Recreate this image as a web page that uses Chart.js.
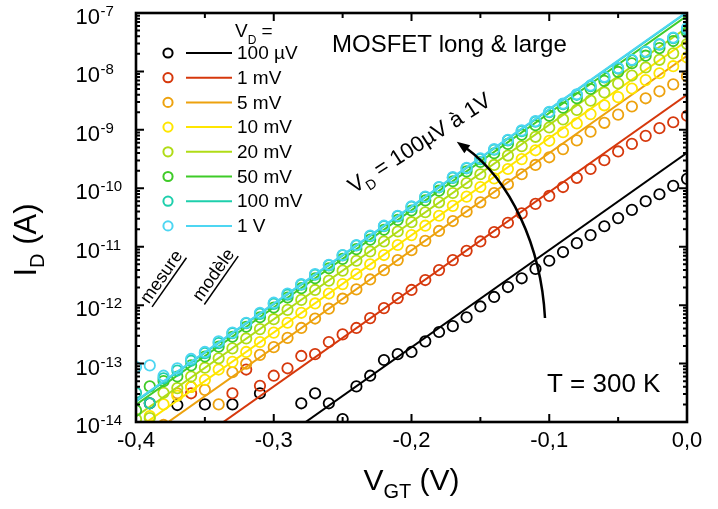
<!DOCTYPE html>
<html>
<head>
<meta charset="utf-8">
<script src="https://cdn.jsdelivr.net/npm/chart.js@4.4.1/dist/chart.umd.min.js"></script>
<style>
  html, body { margin: 0; padding: 0; background: #fff; }
</style>
</head>
<body>
<canvas id="myChart" width="718" height="509"></canvas>
<script>
// gate voltage V_GT (V)
var vgt = [-0.40, -0.39, -0.38, -0.37, -0.36, -0.35, -0.34, -0.33, -0.32, -0.31,
  -0.30, -0.29, -0.28, -0.27, -0.26, -0.25, -0.24, -0.23, -0.22, -0.21,
  -0.20, -0.19, -0.18, -0.17, -0.16, -0.15, -0.14, -0.13, -0.12, -0.11,
  -0.10, -0.09, -0.08, -0.07, -0.06, -0.05, -0.04, -0.03, -0.02, -0.01, 0.00];

var vdLabels = ["100 µV", "1 mV", "5 mV", "10 mV", "20 mV", "50 mV", "100 mV", "1 V"];
var vdColors = ["#000000", "#d6380c", "#eda20e", "#ffe600", "#b0dc16", "#3fcb28", "#1ecfac", "#4dd6f2"];

// measured I_D (A), one value per V_GT, null = below 1e-14
var id100uV = [null, 2.09e-14, null, 1.95e-14, null, 2.0e-14, null, 2.0e-14, null, 3.1e-14,
  null, null, 2.09e-14, 3.1e-14, 2.09e-14, 1.12e-14, 4.07e-14, 6.2e-14, 1.15e-13, 1.45e-13,
  1.58e-13, 2.4e-13, 3.47e-13, 4.37e-13, 6.2e-13, 9.5e-13, 1.38e-12, 2.04e-12, 2.88e-12, 4.17e-12,
  5.75e-12, 8.1e-12, 1.15e-11, 1.58e-11, 2.24e-11, 3.09e-11, 4.27e-11, 6.0e-11, 7.9e-11, 1.10e-10, 1.45e-10];
var id1mV = [null, null, null, null, 3.1e-14, null, null, 3.1e-14, 7.9e-14, 4.17e-14,
  6.2e-14, 8.3e-14, 1.35e-13, 1.45e-13, 2.34e-13, 3.16e-13, 4.07e-13, 6.0e-13, 8.9e-13, 1.32e-12,
  1.82e-12, 2.69e-12, 3.98e-12, 5.9e-12, 8.5e-12, 1.23e-11, 1.78e-11, 2.57e-11, 3.72e-11, 5.4e-11,
  7.4e-11, 1.05e-10, 1.51e-10, 2.14e-10, 3.02e-10, 4.27e-10, 5.75e-10, 7.9e-10, 1.07e-9, 1.35e-9, 1.74e-9];
var id5mV = [null, null, 8.9e-15, 3.1e-14, 3.98e-14, 3.55e-14, 2.0e-14, 7.1e-14, 1.0e-13, 1.41e-13,
  1.91e-13, 2.75e-13, 4.07e-13, 5.9e-13, 8.7e-13, 1.29e-12, 1.86e-12, 2.75e-12, 3.98e-12, 5.9e-12,
  8.7e-12, 1.26e-11, 1.86e-11, 2.75e-11, 3.98e-11, 5.75e-11, 8.3e-11, 1.17e-10, 1.74e-10, 2.51e-10,
  3.39e-10, 4.68e-10, 6.6e-10, 9.3e-10, 1.32e-9, 1.82e-9, 2.51e-9, 3.47e-9, 4.57e-9, 6.0e-9, 8.3e-9];
var id10mV = [8.0e-15, 1.26e-14, 2.0e-14, 2.82e-14, 3.98e-14, 5.25e-14, 7.9e-14, 1.07e-13, 1.58e-13, 2.34e-13,
  3.39e-13, 5.0e-13, 7.4e-13, 1.07e-12, 1.58e-12, 2.29e-12, 3.39e-12, 5.0e-12, 7.2e-12, 1.07e-11,
  1.58e-11, 2.29e-11, 3.39e-11, 5.0e-11, 7.2e-11, 1.05e-10, 1.48e-10, 2.14e-10, 3.16e-10, 4.47e-10,
  6.5e-10, 9.1e-10, 1.29e-9, 1.86e-9, 2.63e-9, 3.63e-9, 5.1e-9, 7.1e-9, 9.3e-9, 1.23e-8, 1.74e-8];
var id20mV = [1.12e-14, 1.17e-14, 3.16e-14, 3.8e-14, 6.0e-14, 8.5e-14, 1.23e-13, 1.82e-13, 2.69e-13, 3.89e-13,
  5.75e-13, 8.3e-13, 1.23e-12, 1.82e-12, 2.63e-12, 3.89e-12, 5.75e-12, 8.3e-12, 1.23e-11, 1.82e-11,
  2.63e-11, 3.89e-11, 5.75e-11, 8.3e-11, 1.23e-10, 1.74e-10, 2.51e-10, 3.63e-10, 5.25e-10, 7.6e-10,
  1.10e-9, 1.51e-9, 2.19e-9, 3.16e-9, 4.37e-9, 6.2e-9, 8.5e-9, 1.17e-8, 1.58e-8, 2.04e-8, 2.95e-8];
var id50mV = [1.58e-14, 4.07e-14, 5.0e-14, 6.0e-14, 9.3e-14, 1.32e-13, 1.95e-13, 2.88e-13, 4.27e-13, 6.2e-13,
  9.1e-13, 1.35e-12, 1.95e-12, 2.88e-12, 4.27e-12, 6.2e-12, 9.1e-12, 1.32e-11, 1.95e-11, 2.88e-11,
  4.17e-11, 6.2e-11, 9.1e-11, 1.32e-10, 1.95e-10, 2.82e-10, 3.98e-10, 5.75e-10, 8.3e-10, 1.20e-9,
  1.74e-9, 2.40e-9, 3.47e-9, 5.0e-9, 6.9e-9, 9.8e-9, 1.38e-8, 1.86e-8, 2.51e-8, 3.31e-8, 4.68e-8];
var id100mV = [3.16e-14, 2.09e-14, 5.6e-14, 7.6e-14, 1.12e-13, 1.51e-13, 2.24e-13, 3.31e-13, 4.9e-13, 7.1e-13,
  1.05e-12, 1.51e-12, 2.24e-12, 3.31e-12, 4.8e-12, 7.1e-12, 1.05e-11, 1.51e-11, 2.24e-11, 3.31e-11,
  4.8e-11, 7.1e-11, 1.04e-10, 1.51e-10, 2.2e-10, 3.16e-10, 4.57e-10, 6.6e-10, 9.5e-10, 1.38e-9,
  2.0e-9, 2.75e-9, 3.98e-9, 5.6e-9, 7.9e-9, 1.12e-8, 1.55e-8, 2.14e-8, 2.88e-8, 3.72e-8, 5.2e-8];
var id1V = [8.7e-14, 9.3e-14, 6.2e-14, 8.3e-14, 1.20e-13, 1.58e-13, 2.40e-13, 3.39e-13, 5.0e-13, 7.4e-13,
  1.10e-12, 1.58e-12, 2.29e-12, 3.39e-12, 4.9e-12, 7.2e-12, 1.07e-11, 1.55e-11, 2.29e-11, 3.39e-11,
  4.9e-11, 7.2e-11, 1.05e-10, 1.55e-10, 2.24e-10, 3.24e-10, 4.68e-10, 6.76e-10, 9.8e-10, 1.41e-9,
  2.04e-9, 2.82e-9, 4.07e-9, 5.75e-9, 8.1e-9, 1.15e-8, 1.58e-8, 2.19e-8, 2.95e-8, 3.80e-8, 5.5e-8];

// model (straight lines on log scale): value at V_GT = -0.4 and at V_GT = 0
var modelV = [-0.4, 0.0];
var modelAtStart = [8.9e-17, 8.8e-16, 4.07e-15, 7.40e-15, 1.245e-14, 1.98e-14, 2.26e-14, 2.31e-14];
var modelAtEnd = [4.05e-10, 3.97e-9, 1.85e-8, 3.35e-8, 5.64e-8, 8.95e-8, 1.026e-7, 1.047e-7];

// axes
var xMajor = [-0.4, -0.3, -0.2, -0.1, 0.0];
var xMinor = [-0.35, -0.25, -0.15, -0.05];
var xTickLabels = ["-0,4", "-0,3", "-0,2", "-0,1", "0,0"];
var yExponents = [-14, -13, -12, -11, -10, -9, -8, -7];

var measured = [id100uV, id1mV, id5mV, id10mV, id20mV, id50mV, id100mV, id1V];

var FONT = '"Liberation Sans", Arial, sans-serif';

var datasets = [];
// highest V_D first so it is drawn on top
for (var i = measured.length - 1; i >= 0; i--) {
  datasets.push({
    type: "line",
    label: vdLabels[i] + " modèle",
    data: [{ x: modelV[0], y: modelAtStart[i] }, { x: modelV[1], y: modelAtEnd[i] }],
    borderColor: vdColors[i],
    borderWidth: 2,
    pointRadius: 0,
    fill: false,
  });
  datasets.push({
    type: "scatter",
    label: vdLabels[i] + " mesure",
    data: vgt.map(function (v, k) { return { x: v, y: measured[i][k] }; }),
    borderColor: vdColors[i],
    backgroundColor: "rgba(0,0,0,0)",
    borderWidth: 1.8,
    pointRadius: 5.2,
    pointHoverRadius: 5.2,
  });
}

function subText(ctx, parts, x, y, align) {
  // parts: [text, size, dy]
  var w = 0;
  parts.forEach(function (p) { ctx.font = p[1] + "px " + FONT; w += ctx.measureText(p[0]).width; });
  var cx = align === "center" ? x - w / 2 : x;
  ctx.textAlign = "left";
  ctx.textBaseline = "alphabetic";
  parts.forEach(function (p) {
    ctx.font = p[1] + "px " + FONT;
    ctx.fillText(p[0], cx, y + p[2]);
    cx += ctx.measureText(p[0]).width;
  });
}

var decor = {
  id: "decor",
  afterDatasetsDraw: function (chart) {
    var ctx = chart.ctx, a = chart.chartArea;
    var xs = chart.scales.x, ys = chart.scales.y;
    ctx.save();
    ctx.strokeStyle = "#000";
    ctx.fillStyle = "#000";

    // ticks (inward on all four sides)
    ctx.lineWidth = 2;
    ctx.beginPath();
    xMajor.concat(xMinor).forEach(function (v) {
      var len = xMajor.indexOf(v) >= 0 ? 8 : 5;
      var px = xs.getPixelForValue(v);
      ctx.moveTo(px, a.bottom); ctx.lineTo(px, a.bottom - len);
      ctx.moveTo(px, a.top); ctx.lineTo(px, a.top + len);
    });
    yExponents.forEach(function (e) {
      var py = ys.getPixelForValue(Math.pow(10, e));
      ctx.moveTo(a.left, py); ctx.lineTo(a.left + 8, py);
      ctx.moveTo(a.right, py); ctx.lineTo(a.right - 8, py);
      if (e < -7) {
        for (var m = 2; m <= 9; m++) {
          var pm = ys.getPixelForValue(m * Math.pow(10, e));
          ctx.moveTo(a.left, pm); ctx.lineTo(a.left + 4, pm);
          ctx.moveTo(a.right, pm); ctx.lineTo(a.right - 4, pm);
        }
      }
    });
    ctx.stroke();

    // frame
    ctx.lineWidth = 2.6;
    ctx.strokeRect(a.left, a.top, a.right - a.left, a.bottom - a.top);

    // tick labels
    ctx.font = "22px " + FONT;
    ctx.textAlign = "center";
    ctx.textBaseline = "middle";
    xMajor.forEach(function (v, k) {
      ctx.fillText(xTickLabels[k], xs.getPixelForValue(v), a.bottom + 19);
    });
    yExponents.forEach(function (e) {
      var py = ys.getPixelForValue(Math.pow(10, e));
      ctx.font = "22px " + FONT;
      ctx.textAlign = "right";
      ctx.textBaseline = "alphabetic";
      ctx.fillText("10", 100, py + 11);
      ctx.font = "15px " + FONT;
      ctx.textAlign = "left";
      ctx.fillText(String(e), 100.5, py + 3);
    });

    // axis titles
    ctx.fillStyle = "#000";
    subText(ctx, [["V", 30, 0], ["GT", 20, 8], [" (V)", 30, 0]], (a.left + a.right) / 2, 490, "center");
    ctx.save();
    ctx.translate(36, 240);
    ctx.rotate(-Math.PI / 2);
    subText(ctx, [["I", 31, 0], ["D", 20, 8], [" (A)", 31, 0]], 0, 0, "center");
    ctx.restore();

    // legend
    subText(ctx, [["V", 19, 0], ["D", 12, 7], [" =", 19, 0]], 235, 37, "left");
    for (var i = 0; i < vdLabels.length; i++) {
      var ly = 53 + i * 24.7;
      ctx.strokeStyle = vdColors[i];
      ctx.lineWidth = 2;
      ctx.beginPath();
      ctx.arc(168, ly, 4.6, 0, Math.PI * 2);
      ctx.stroke();
      ctx.beginPath();
      ctx.moveTo(186, ly); ctx.lineTo(232, ly);
      ctx.stroke();
      ctx.fillStyle = "#000";
      ctx.font = "19px " + FONT;
      ctx.textAlign = "left";
      ctx.textBaseline = "middle";
      ctx.fillText(vdLabels[i], 237, ly + 1);
    }

    // mesure / modele
    [["mesure", 166, 280], ["modèle", 218, 278]].forEach(function (t) {
      ctx.save();
      ctx.translate(t[1], t[2]);
      ctx.rotate(-55 * Math.PI / 180);
      ctx.font = "18px " + FONT;
      ctx.fillStyle = "#000";
      ctx.textAlign = "center";
      ctx.textBaseline = "alphabetic";
      ctx.fillText(t[0], 0, 0);
      var w = ctx.measureText(t[0]).width;
      ctx.lineWidth = 1.5;
      ctx.strokeStyle = "#000";
      ctx.beginPath();
      ctx.moveTo(-w / 2, 4); ctx.lineTo(w / 2, 4);
      ctx.stroke();
      ctx.restore();
    });

    // titles in plot
    ctx.fillStyle = "#000";
    ctx.font = "24px " + FONT;
    ctx.textAlign = "left";
    ctx.textBaseline = "alphabetic";
    ctx.fillText("MOSFET long & large", 332, 52);
    ctx.font = "26px " + FONT;
    ctx.fillText("T = 300 K", 547, 392);

    // rotated V_D annotation
    ctx.save();
    ctx.translate(354, 194);
    ctx.rotate(-33 * Math.PI / 180);
    subText(ctx, [["V", 22, 0], ["D", 14, 6], [" = 100µV à 1V", 22, 0]], 0, 0, "left");
    ctx.restore();

    // arrow
    ctx.strokeStyle = "#000";
    ctx.lineWidth = 2.5;
    ctx.beginPath();
    ctx.moveTo(545, 318);
    ctx.bezierCurveTo(541, 245, 510, 180, 466, 148);
    ctx.stroke();
    var ang = Math.atan2(148 - 180, 466 - 510);
    ctx.save();
    ctx.translate(460, 144);
    ctx.rotate(ang);
    ctx.beginPath();
    ctx.moveTo(4, 0); ctx.lineTo(-9, -5); ctx.lineTo(-9, 5); ctx.closePath();
    ctx.fillStyle = "#000";
    ctx.fill();
    ctx.restore();

    ctx.restore();
  }
};

new Chart("myChart", {
  type: "scatter",
  data: { datasets: datasets },
  options: {
    responsive: false,
    animation: false,
    devicePixelRatio: 1,
    layout: { padding: { left: 136, right: 31, top: 13, bottom: 87 } },
    plugins: { legend: { display: false }, tooltip: { enabled: false } },
    scales: {
      x: { type: "linear", min: -0.4, max: 0, display: false },
      y: { type: "logarithmic", min: 1e-14, max: 1e-7, display: false },
    },
  },
  plugins: [decor],
});
</script>
</body>
</html>
